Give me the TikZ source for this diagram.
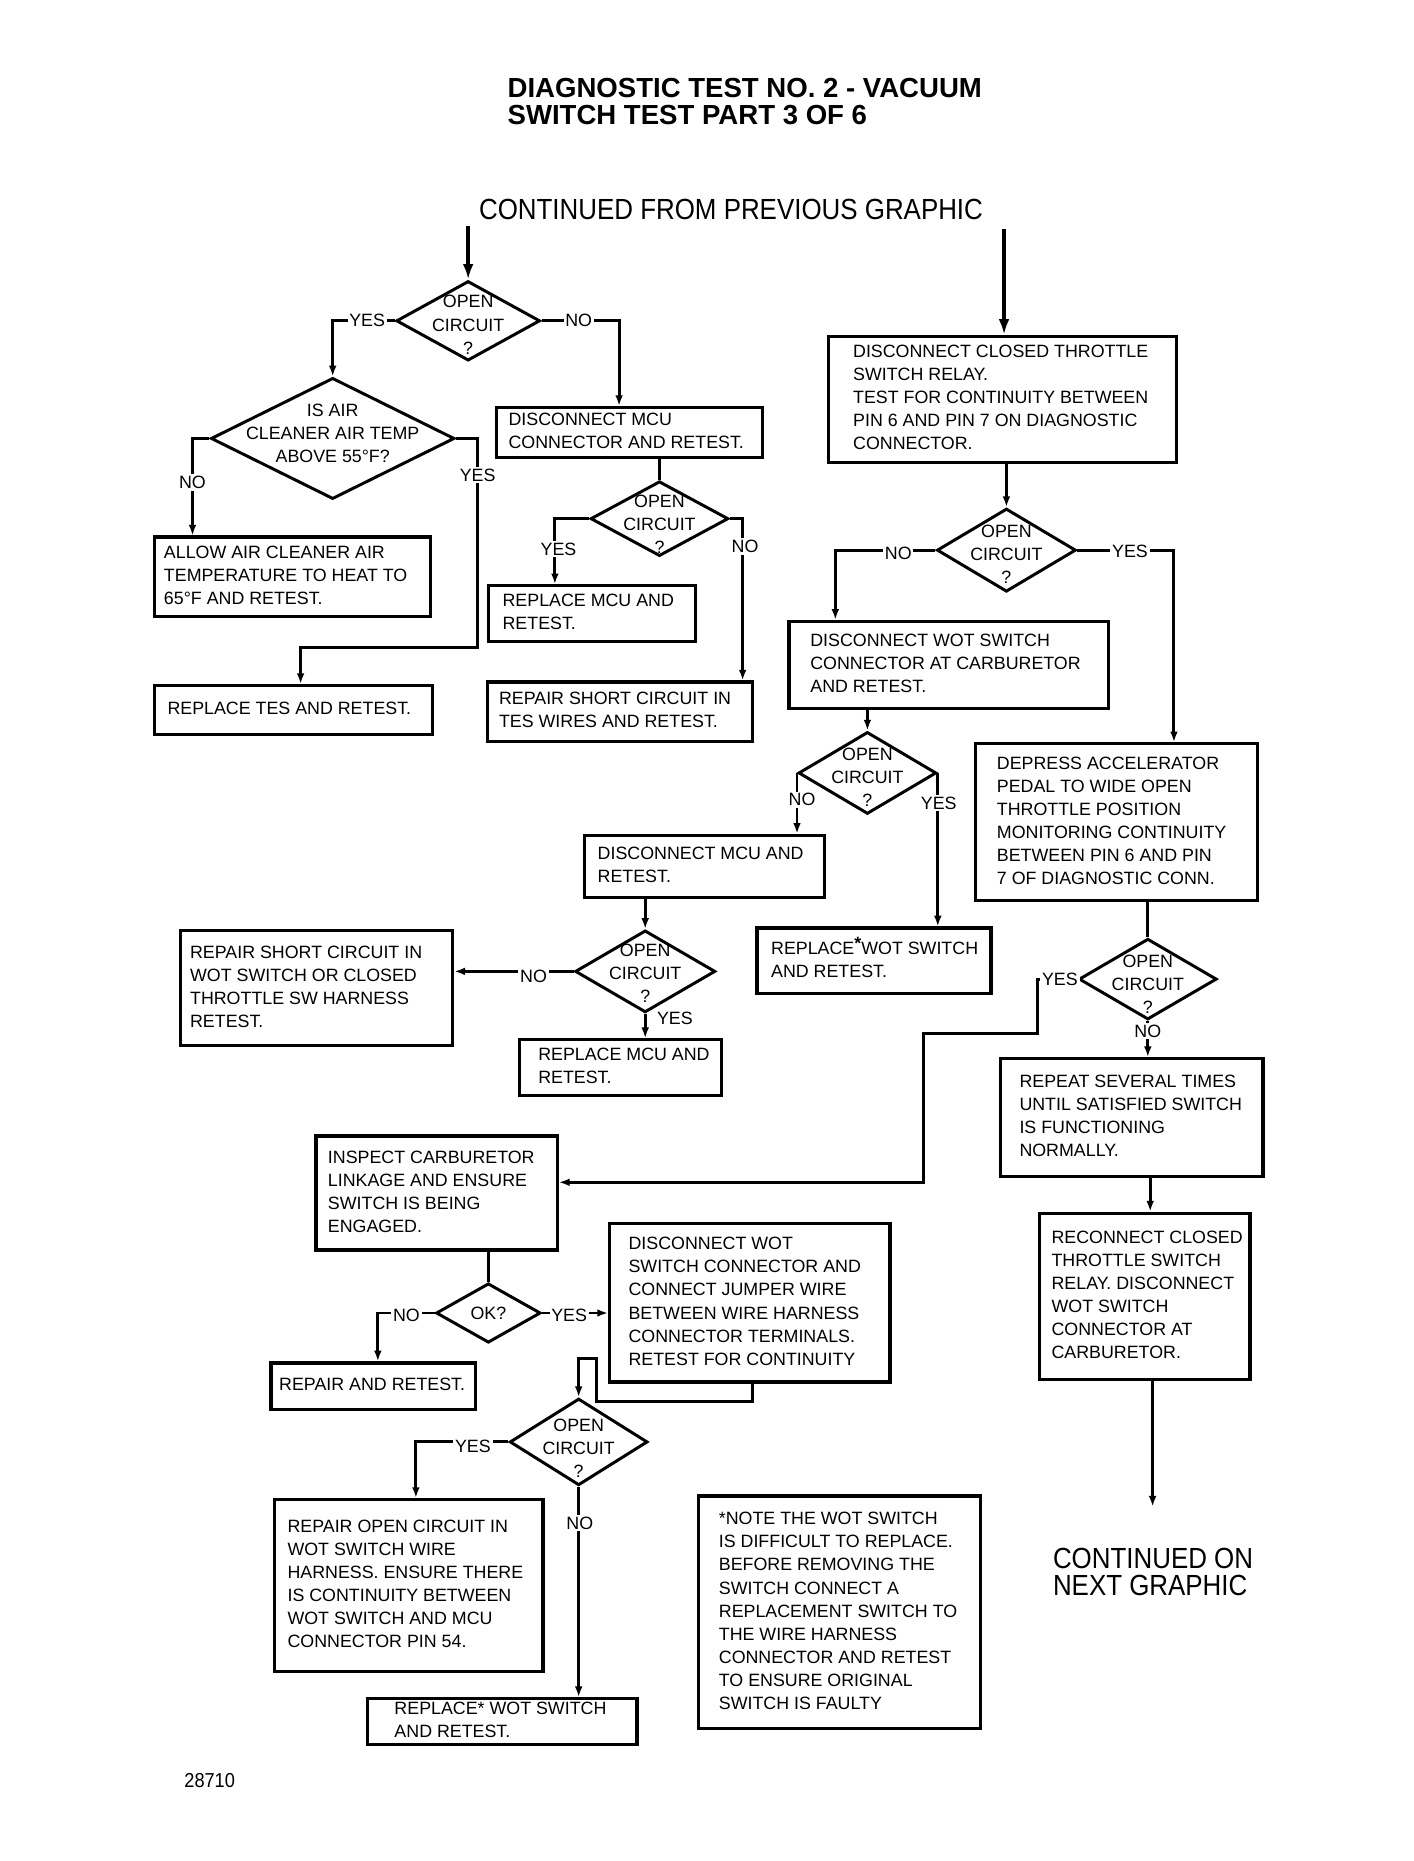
\documentclass[tikz,border=0pt]{standalone}
\usepackage{fontspec}
\setmainfont{Liberation Sans}
\usepackage{graphicx}
\usetikzlibrary{arrows.meta,shapes.geometric}
\newcommand\bxf{\fontsize{15}{19.4}\selectfont}
% diamond text: zero-size, centred, shifted down by #1
\newcommand\dtxt[2][3pt]{\smash{\makebox[0pt]{\raisebox{\dimexpr-5.3pt-#1\relax}{\begin{tabular}{@{}c@{}}#2\end{tabular}}}}}
% box text: width #1, left pad #2
\newcommand\bt[3]{\makebox[#1pt][l]{\hspace*{#2pt}\begin{tabular}{@{}l@{}}#3\end{tabular}}}
\begin{document}
\begin{tikzpicture}[x=1pt,y=-1pt,
  box/.style={draw, line width=2.7pt, fill=white, inner sep=0pt, font=\bxf},
  dia/.style={draw, diamond, line width=2.5pt, fill=white, inner sep=0pt, font=\bxf},
  lab/.style={fill=white, inner sep=1.5pt, font=\bxf},
  conn/.style={line width=2.5pt},
  arr/.style={conn, -{Latex[length=9pt,width=6.5pt]}},
  bigarr/.style={line width=3.8pt, -{Latex[length=13pt,width=9pt]}},
  bigtxt/.style={anchor=base west, inner sep=0pt, font=\fontsize{24.5}{28}\selectfont}
]
\fill[white] (0,0) rectangle (1190,1566.2);
\useasboundingbox (0,0) rectangle (1190,1566.2);

% titles
\node[anchor=base west, inner sep=0pt, font=\fontsize{23.2}{24}\selectfont\bfseries] (t1) at (427,82) {DIAGNOSTIC TEST NO. 2 - VACUUM};
\node[anchor=base west, inner sep=0pt, font=\fontsize{23.2}{24}\selectfont\bfseries] (t2) at (427,105) {SWITCH TEST PART 3 OF 6};
\node[bigtxt] (cf) at (403,185) {\scalebox{0.89}[1]{CONTINUED FROM PREVIOUS GRAPHIC}};
\node[bigtxt] (cn1) at (886,1320) {\scalebox{0.89}[1]{CONTINUED ON}};
\node[bigtxt] (cn2) at (886,1343) {\scalebox{0.89}[1]{NEXT GRAPHIC}};
\node[anchor=base west, inner sep=0pt, font=\fontsize{17}{20}\selectfont] (num) at (155,1504) {\scalebox{0.9}[1]{28710}};

% free ends
\coordinate (cfl) at (394,190);
\coordinate (cfr) at (845,193);
\coordinate (cont) at (970,1268);
\coordinate (j1) at (402,545);
\coordinate (j2) at (873,870);
\coordinate (j3) at (777,995);
\coordinate (j4) at (502,1143);

% diamonds
\node[dia, minimum width=121pt, minimum height=67pt] (d1) at (394,270) {\dtxt{OPEN\\CIRCUIT\\?}};
\node[dia, minimum width=205pt, minimum height=102pt] (d2) at (280,369) {\dtxt[-5pt]{IS AIR\\CLEANER AIR TEMP\\ABOVE 55°F?}};
\node[dia, minimum width=116pt, minimum height=63pt] (d3) at (555,436.5) {\dtxt[4pt]{OPEN\\CIRCUIT\\?}};
\node[dia, minimum width=117pt, minimum height=70pt] (d4) at (847,463) {\dtxt{OPEN\\CIRCUIT\\?}};
\node[dia, minimum width=116pt, minimum height=69pt] (d5) at (730,650.5) {\dtxt{OPEN\\CIRCUIT\\?}};
\node[dia, minimum width=118pt, minimum height=69pt] (d6) at (543,817.5) {\dtxt[1pt]{OPEN\\CIRCUIT\\?}};
\node[dia, minimum width=116pt, minimum height=68pt] (d7) at (966,824) {\dtxt[4pt]{OPEN\\CIRCUIT\\?}};
\node[dia, minimum width=88pt, minimum height=50pt] (d8) at (411,1105) {\dtxt[0pt]{OK?}};
\node[dia, minimum width=116pt, minimum height=73pt] (d9) at (487,1213.5) {\dtxt[5pt]{OPEN\\CIRCUIT\\?}};

% boxes
\node[box, minimum height=42pt] (b1) at (530,364) {\bt{224}{10}{DISCONNECT MCU\\CONNECTOR AND RETEST.}};
\node[box, minimum height=67pt] (b2) at (246,485.5) {\bt{232}{8}{ALLOW AIR CLEANER AIR\\TEMPERATURE TO HEAT TO\\65°F AND RETEST.}};
\node[box, minimum height=41pt] (b3) at (247,597.5) {\bt{234}{11}{REPLACE TES AND RETEST.}};
\node[box, minimum height=47pt] (b4) at (498,516.5) {\bt{174}{12}{REPLACE MCU AND\\RETEST.}};
\node[box, minimum height=50pt] (b5) at (521.5,599) {\bt{223}{10}{REPAIR SHORT CIRCUIT IN\\TES WIRES AND RETEST.}};
\node[box, minimum height=106pt] (b6) at (843.5,336) {\bt{293}{21}{DISCONNECT CLOSED THROTTLE\\SWITCH RELAY.\\TEST FOR CONTINUITY BETWEEN\\PIN 6 AND PIN 7 ON DIAGNOSTIC\\CONNECTOR.}};
\node[box, minimum height=73pt] (b7) at (798.5,559.5) {\bt{269}{18}{DISCONNECT WOT SWITCH\\CONNECTOR AT CARBURETOR\\AND RETEST.}};
\node[box, minimum height=132pt] (b8) at (939.5,692) {\bt{237}{18}{DEPRESS ACCELERATOR\\PEDAL TO WIDE OPEN\\THROTTLE POSITION\\MONITORING CONTINUITY\\BETWEEN PIN 6 AND PIN\\7 OF DIAGNOSTIC CONN.}};
\node[box, minimum height=52pt] (b9) at (593,729) {\bt{202}{11}{DISCONNECT MCU AND\\RETEST.}};
\node[box, minimum height=55pt] (b10) at (735.5,808.5) {\bt{197}{12}{REPLACE\raisebox{4pt}{\bfseries *}WOT SWITCH\\AND RETEST.}};
\node[box, minimum height=97pt] (b11) at (266.5,831.5) {\bt{229}{8}{REPAIR SHORT CIRCUIT IN\\WOT SWITCH OR CLOSED\\THROTTLE SW HARNESS\\RETEST.}};
\node[box, minimum height=47pt] (b12) at (522,898.5) {\bt{170}{16}{REPLACE MCU AND\\RETEST.}};
\node[box, minimum height=96pt] (b13) at (367.5,1004) {\bt{203}{10}{INSPECT CARBURETOR\\LINKAGE AND ENSURE\\SWITCH IS BEING\\ENGAGED.}};
\node[box, minimum height=99pt] (b14) at (952.5,940.5) {\bt{221}{16}{REPEAT SEVERAL TIMES\\UNTIL SATISFIED SWITCH\\IS FUNCTIONING\\NORMALLY.}};
\node[box, minimum height=140pt] (b15) at (963.5,1091) {\bt{177}{10}{RECONNECT CLOSED\\THROTTLE SWITCH\\RELAY. DISCONNECT\\WOT SWITCH\\CONNECTOR AT\\CARBURETOR.}};
\node[box, minimum height=39pt] (b16) at (314,1166.5) {\bt{172}{7}{REPAIR AND RETEST.}};
\node[box, minimum height=133pt] (b17) at (631,1096.5) {\bt{236}{16}{DISCONNECT WOT\\SWITCH CONNECTOR AND\\CONNECT JUMPER WIRE\\BETWEEN WIRE HARNESS\\CONNECTOR TERMINALS.\\RETEST FOR CONTINUITY}};
\node[box, minimum height=145pt] (b18) at (344,1334.5) {\bt{226}{11}{REPAIR OPEN CIRCUIT IN\\WOT SWITCH WIRE\\HARNESS. ENSURE THERE\\IS CONTINUITY BETWEEN\\WOT SWITCH AND MCU\\CONNECTOR PIN 54.}};
\node[box, minimum height=38pt] (b19) at (422.5,1449) {\bt{227}{23}{REPLACE* WOT SWITCH\\AND RETEST.}};
\node[box, minimum height=196pt] (b20) at (706.5,1357) {\bt{237}{17}{*NOTE THE WOT SWITCH\\IS DIFFICULT TO REPLACE.\\BEFORE REMOVING THE\\SWITCH CONNECT A\\REPLACEMENT SWITCH TO\\THE WIRE HARNESS\\CONNECTOR AND RETEST\\TO ENSURE ORIGINAL\\SWITCH IS FAULTY}};

% connectors
\draw[bigarr] (cfl) -- (d1.north);
\draw[bigarr] (cfr) -- (cfr |- b6.north);
\draw[arr] (d1.west) -| (d2.north);
\draw[arr] (d1.east) -| ([xshift=-9pt]b1.north);
\draw[arr] (d2.west) -| ([xshift=-84pt]b2.north);
\draw[arr] (d2.east) -| (j1) -| ([xshift=6pt]b3.north);
\draw[conn] (d3.north |- b1.south) -- (d3.north);
\draw[arr] (d3.west) -| ([xshift=-31pt]b4.north);
\draw[arr] (d3.east) -| ([xshift=103.5pt]b5.north);
\draw[arr] (d4.north |- b6.south) -- (d4.north);
\draw[arr] (d4.west) -| ([xshift=-95.5pt]b7.north);
\draw[arr] (d4.east) -| ([xshift=48.5pt]b8.north);
\draw[arr] (d5.north |- b7.south) -- (d5.north);
\draw[arr] (d5.west) -- (d5.west |- b9.north);
\draw[arr] (d5.east) -- (d5.east |- b10.north);
\draw[arr] (d6.north |- b9.south) -- (d6.north);
\draw[arr] (d6.west) -- (d6.west -| b11.east);
\draw[arr] (d6.south) -- (d6.south |- b12.north);
\draw[conn] (d7.north |- b8.south) -- (d7.north);
\draw[arr] (d7.west) -| (j2) -| (j3) -- (j3 -| b13.east);
\draw[arr] (d7.south) -- (d7.south |- b14.north);
\draw[arr] ([xshift=15.5pt]b14.south) -- ([xshift=15.5pt]b14.south |- b15.north);
\draw[arr] ([xshift=6.5pt]b15.south) -- (cont);
\draw[conn] (d8.north |- b13.south) -- (d8.north);
\draw[arr] (d8.west) -| ([xshift=4pt]b16.north);
\draw[arr] (d8.east) -- (d8.east -| b17.west);
\draw[arr] ([xshift=2pt]b17.south) -- ++(0,15) -| (j4) -| (d9.north);
\draw[arr] (d9.west) -| ([xshift=6pt]b18.north);
\draw[arr] (d9.south) -- (d9.south |- b19.north);

% labels
\node[lab] (l1) at (309,270) {YES};
\node[lab] (l2) at (487,270) {NO};
\node[lab] (l3) at (162,406) {NO};
\node[lab] (l4) at (402,400) {YES};
\node[lab] (l5) at (470,462) {YES};
\node[lab] (l6) at (627,460) {NO};
\node[lab] (l7) at (756,466) {NO};
\node[lab] (l8) at (951,464) {YES};
\node[lab] (l9) at (675,673) {NO};
\node[lab] (l10) at (790,676) {YES};
\node[lab] (l11) at (449,822) {NO};
\node[lab] (l12) at (568,857) {YES};
\node[lab] (l13) at (892,824) {YES};
\node[lab] (l14) at (966,868) {NO};
\node[lab] (l15) at (342,1107) {NO};
\node[lab] (l16) at (479,1107) {YES};
\node[lab] (l17) at (398,1217) {YES};
\node[lab] (l18) at (488,1282) {NO};
\end{tikzpicture}
\end{document}
